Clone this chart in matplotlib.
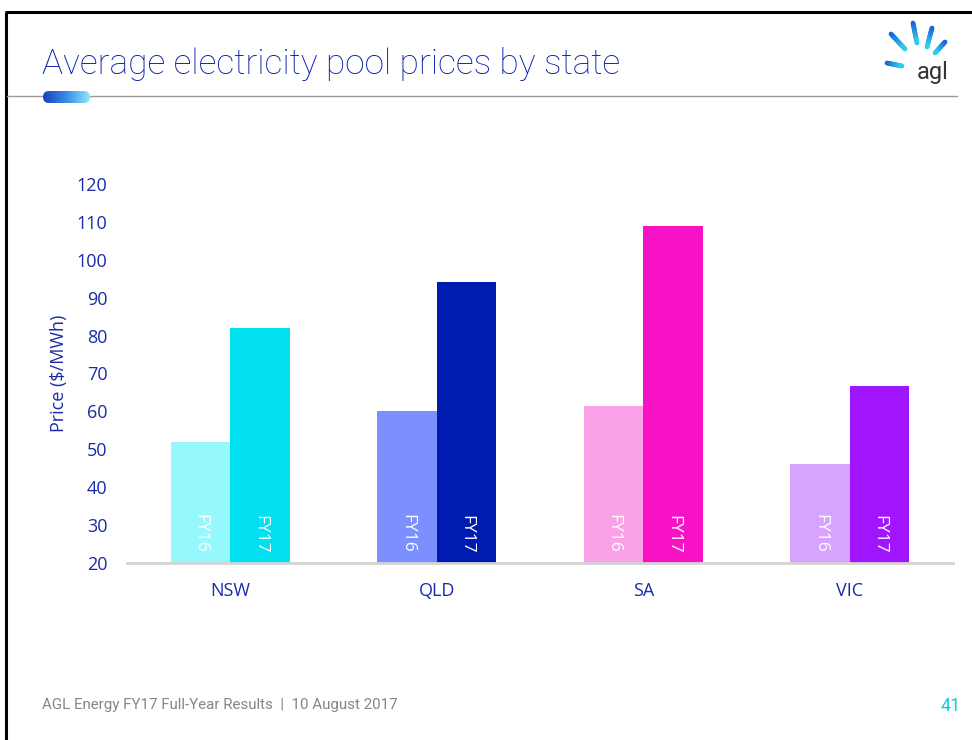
import numpy as np
import matplotlib
matplotlib.use("Agg")
import matplotlib.pyplot as plt
from matplotlib.patches import FancyBboxPatch
from matplotlib.colors import LinearSegmentedColormap

states = ["NSW", "QLD", "SA", "VIC"]
fy16 = [51.8, 60.2, 61.5, 46.2]
fy17 = [82.0, 94.2, 108.9, 66.8]
series_labels = ["FY16", "FY17"]
yticks = [20, 30, 40, 50, 60, 70, 80, 90, 100, 110, 120]

c16 = ["#96f8fc", "#7b8fff", "#fba1e7", "#d8a3fe"]
c17 = ["#00e0ee", "#001bb0", "#f812c6", "#a115fe"]
blue = "#1a2aa8"

W, H = 972, 740
fig = plt.figure(figsize=(W / 100, H / 100), dpi=100)

deco = fig.add_axes([0, 0, 1, 1])
deco.set_xlim(0, W)
deco.set_ylim(H, 0)
deco.axis("off")
deco.plot([5, W], [12, 12], color="black", lw=2.2, solid_capstyle="butt")
deco.plot([6, 6], [12, H], color="black", lw=2.2, solid_capstyle="butt")
deco.plot([7, 957], [96, 96], color="#9a9a9a", lw=1.0)
grad = np.linspace(0, 1, 100).reshape(1, -1)
cm = LinearSegmentedColormap.from_list("g", ["#1a3fc4", "#3a8fe6", "#8eeafb"])
im = deco.imshow(grad, extent=[43, 90, 103, 91], cmap=cm, aspect="auto", zorder=3)
pill = FancyBboxPatch((43, 91), 47, 12, boxstyle="round,pad=0,rounding_size=6",
                      transform=deco.transData, facecolor="none", edgecolor="none")
deco.add_patch(pill)
im.set_clip_path(pill)
deco.set_xlim(0, W)
deco.set_ylim(H, 0)

deco.text(42, 64, "Average electricity pool prices by state", fontsize=25.4,
          family="Roboto", weight="light", color="#0a1fb0", va="center", ha="left")

rays = [((891, 34), (905, 49)), ((913, 23), (917, 43)), ((932, 28), (927, 47)),
        ((945, 42), (935, 53)), ((887, 63), (902, 66))]
cmap_r = LinearSegmentedColormap.from_list("r", ["#1560d8", "#30d4f4"])
for (x0, y0), (x1, y1) in rays:
    n = 12
    xs = np.linspace(x0, x1, n + 1)
    ys = np.linspace(y0, y1, n + 1)
    for i in range(n):
        deco.plot(xs[i:i + 2], ys[i:i + 2], color=cmap_r(i / n), lw=3.4,
                  solid_capstyle="round")
deco.text(917, 79, "agl", fontsize=17, family="Roboto", color="#333333",
          ha="left", va="baseline")

deco.text(42, 705, "AGL Energy FY17 Full-Year Results  |  10 August 2017",
          fontsize=10.9, family="Roboto", color="#858585", va="center", ha="left")
deco.text(961, 706, "41", fontsize=13, family="Roboto", color="#10c8e0",
          va="center", ha="right")

ax = fig.add_axes([127 / W, (H - 563) / H, 826 / W, 379 / H])
x = np.arange(len(states))
bw = 0.288
ax.bar(x - bw / 2, [v - 20 for v in fy16], bottom=20, width=bw, color=c16, zorder=2)
ax.bar(x + bw / 2, [v - 20 for v in fy17], bottom=20, width=bw, color=c17, zorder=2)
for i in range(len(states)):
    ax.text(x[i] - bw / 2, 22.6, series_labels[0], rotation=270, color="white",
            fontsize=12.5, family="Open Sans", ha="center", va="bottom", zorder=3)
    ax.text(x[i] + bw / 2, 22.6, series_labels[1], rotation=270, color="white",
            fontsize=12.5, family="Open Sans", ha="center", va="bottom", zorder=3)

ax.set_xlim(-0.5, len(states) - 0.5)
ax.set_ylim(20, 120)
ax.set_yticks(yticks)
ax.set_yticklabels([str(t) for t in yticks], family="Open Sans", fontsize=13, color=blue)
ax.set_xticks(x)
ax.set_xticklabels(states, family="Open Sans", fontsize=13, color=blue)
ax.tick_params(axis="both", length=0)
ax.tick_params(axis="y", pad=14)
ax.tick_params(axis="x", pad=14)
for s in ["top", "right", "left"]:
    ax.spines[s].set_visible(False)
ax.spines["bottom"].set_color("#d4d4d4")
ax.spines["bottom"].set_linewidth(2)
ax.set_ylabel("Price ($/MWh)", family="Open Sans", fontsize=13, color=blue)
ax.yaxis.set_label_coords(-0.071, 0.5)

fig.savefig("out.png", dpi=100)
